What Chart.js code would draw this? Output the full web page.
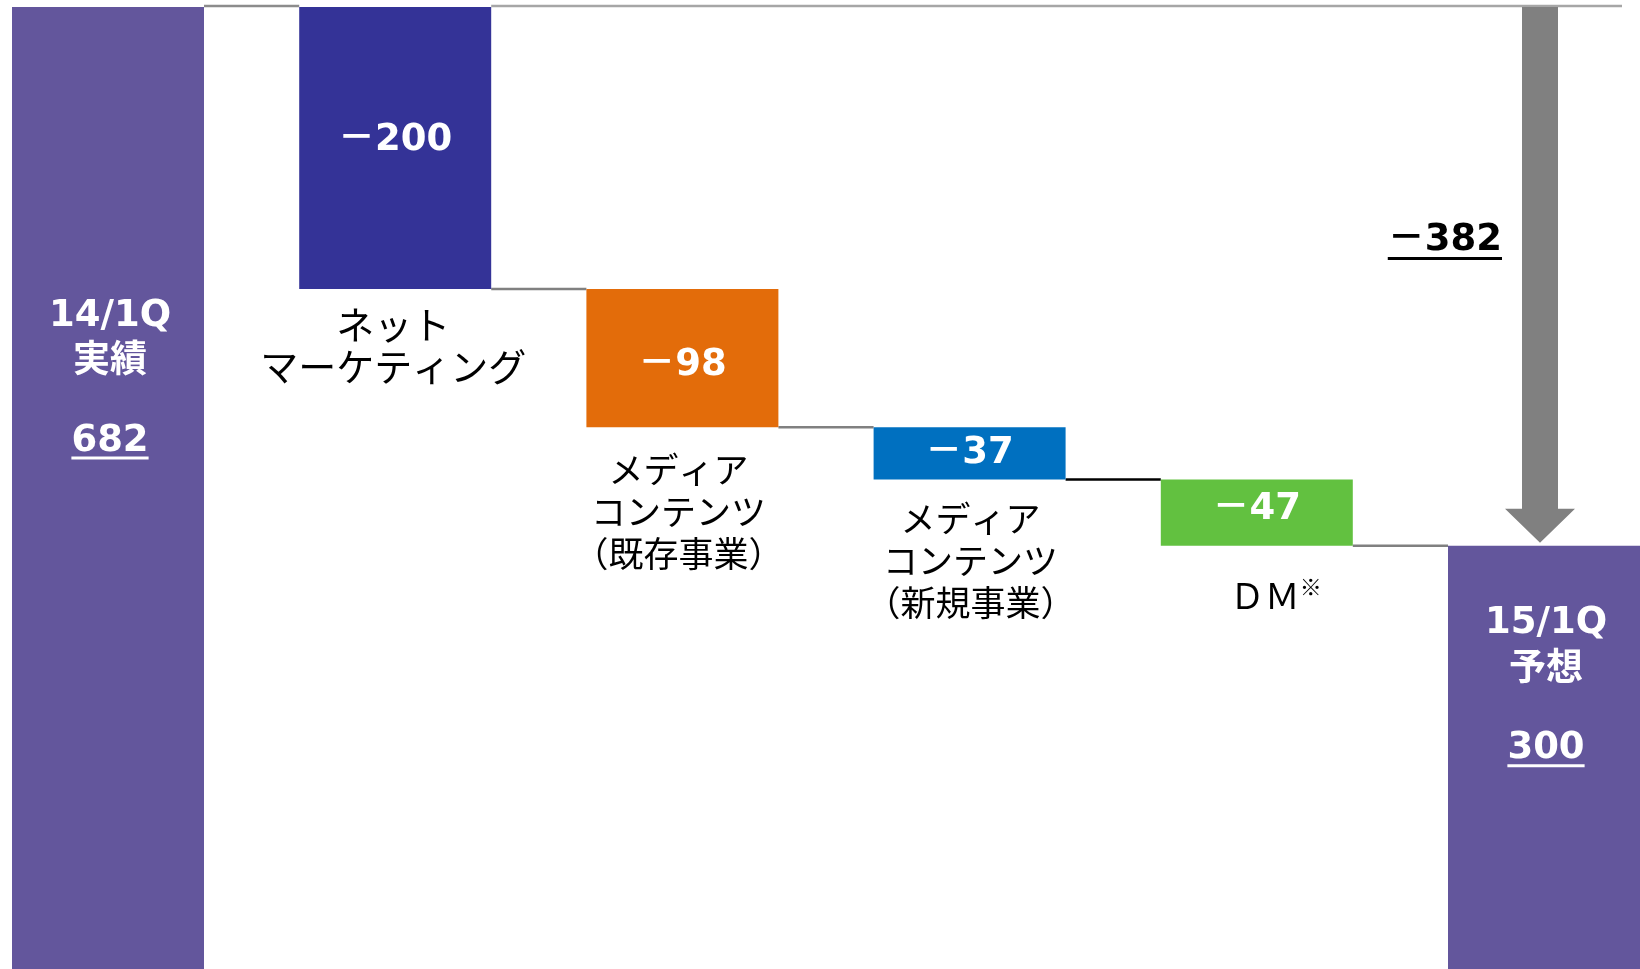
<!DOCTYPE html>
<html lang="ja">
<head>
<meta charset="utf-8">
<title>営業利益 増減要因</title>
<script src="https://cdn.jsdelivr.net/npm/chart.js@4.4.1/dist/chart.umd.min.js"></script>
<style>
  html, body { margin: 0; padding: 0; background: #fff; }
  #wrap { width: 1640px; height: 969px; }
</style>
</head>
<body>
<div id="wrap"><canvas id="myChart" width="1640" height="969"></canvas></div>
<script>
// 14/1Q実績 → 15/1Q予想 の増減
var startValue = 682;
var endValue = 300;
var changes = [-200, -98, -37, -47];
var categories = ["14/1Q実績", "ネットマーケティング", "メディアコンテンツ（既存事業）", "メディアコンテンツ（新規事業）", "ＤＭ※", "15/1Q予想"];
var totalTitles = [["14/1Q", "実績"], ["15/1Q", "予想"]];
var changeLines = [["ネット", "マーケティング"], ["メディア", "コンテンツ", "（既存事業）"], ["メディア", "コンテンツ", "（新規事業）"], ["ＤＭ※"]];

var barColors = ["#63569c", "#343397", "#e36c0a", "#0070c0", "#62c140", "#63569c"];
var connectorColors = ["#8c8c8c", "#808080", "#808080", "#000000", "#808080"];
// label placement below each change bar (px from bar centre / bar bottom)
var labelDx = [-2, -4, 1, 19];
var labelDy = [35, 42, 39, 50];
var labelSize = [38, 35, 35, 35];
// nudges for the value printed inside each change bar
var valueDy = [-8, 7, 0, -3];
// first title line, measured down from the top of each total bar
var totalDy = [307, 76];

// floating bars: [bottom, top]
var bars = [[0, startValue]];
var levels = [startValue];
var level = startValue;
changes.forEach(function (c) {
  bars.push([level + c, level]);
  level += c;
  levels.push(level);
});
bars.push([0, endValue]);

function fmt(v) {
  return v < 0 ? "－" + Math.abs(v) : String(v);
}

var NUM_FONT = '"DejaVu Sans", "Noto Sans CJK JP", sans-serif';
var JP_FONT = '"Noto Sans CJK JP", sans-serif';

function underline(ctx, text, x, y, align, color, lw) {
  var w = ctx.measureText(text).width;
  var x0 = align === "right" ? x - w : x - w / 2;
  ctx.strokeStyle = color;
  ctx.lineWidth = lw;
  ctx.beginPath();
  ctx.moveTo(x0, y);
  ctx.lineTo(x0 + w, y);
  ctx.stroke();
}

var waterfallText = {
  id: "waterfallText",
  beforeDatasetsDraw: function (chart) {
    var ctx = chart.ctx;
    var els = chart.getDatasetMeta(0).data;
    var ys = chart.scales.y;
    function edge(i, side) { return els[i].x + side * els[i].width / 2; }
    ctx.save();
    ctx.lineWidth = 2.5;
    // steps between neighbouring bars
    for (var i = 0; i < els.length - 1; i++) {
      var py = ys.getPixelForValue(levels[i]);
      if (i === 0) py -= 1;
      ctx.strokeStyle = connectorColors[i];
      ctx.beginPath();
      ctx.moveTo(edge(i, 1), py);
      ctx.lineTo(edge(i + 1, -1), py);
      ctx.stroke();
    }
    // top reference line running past the arrow
    var topY = ys.getPixelForValue(startValue) - 1;
    ctx.strokeStyle = "#a6a6a6";
    ctx.beginPath();
    ctx.moveTo(edge(1, 1), topY);
    ctx.lineTo(els[els.length - 1].x + 78, topY);
    ctx.stroke();
    ctx.restore();
  },
  afterDatasetsDraw: function (chart) {
    var ctx = chart.ctx;
    var els = chart.getDatasetMeta(0).data;
    var ys = chart.scales.y;
    var last = els.length - 1;
    function box(i) {
      var e = els[i];
      return { x: e.x, top: Math.min(e.y, e.base), bottom: Math.max(e.y, e.base) };
    }
    ctx.save();
    ctx.textAlign = "center";
    ctx.textBaseline = "middle";

    // change values inside the bars, category names underneath
    changes.forEach(function (c, k) {
      var b = box(k + 1);
      ctx.fillStyle = "#ffffff";
      ctx.font = "bold 37px " + NUM_FONT;
      ctx.fillText(fmt(c), b.x, (b.top + b.bottom) / 2 + valueDy[k]);

      ctx.fillStyle = "#000000";
      var size = labelSize[k] + "px ";
      changeLines[k].forEach(function (line, n) {
        var lx = b.x + labelDx[k];
        var ly = b.bottom + labelDy[k] + n * 42;
        if (line.slice(-1) === "※") {
          var main = line.slice(0, -1);
          ctx.font = size + JP_FONT;
          var wm = ctx.measureText(main).width;
          ctx.font = "22px " + JP_FONT;
          var wn = ctx.measureText("※").width;
          var x0 = lx - (wm + wn) / 2;
          ctx.textAlign = "left";
          ctx.font = size + JP_FONT;
          ctx.fillText(main, x0, ly);
          ctx.font = "22px " + JP_FONT;
          ctx.fillText("※", x0 + wm, ly - 9);
          ctx.textAlign = "center";
        } else {
          ctx.font = size + JP_FONT;
          ctx.fillText(line, lx, ly);
        }
      });
    });

    // totals
    [[0, startValue], [last, endValue]].forEach(function (t, k) {
      var b = box(t[0]);
      var x = b.x + 2;
      var y0 = b.top + totalDy[k];
      ctx.fillStyle = "#ffffff";
      ctx.font = "bold 37px " + NUM_FONT;
      ctx.fillText(totalTitles[k][0], x, y0 + 2);
      ctx.font = "bold 37px " + JP_FONT;
      ctx.fillText(totalTitles[k][1], x, y0 + 44);
      ctx.font = "bold 37px " + NUM_FONT;
      ctx.fillText(String(t[1]), x, y0 + 127);
      underline(ctx, String(t[1]), x, y0 + 144, "center", "#ffffff", 3);
    });

    // overall change arrow
    var ax = els[last].x - 4;
    var aTop = ys.getPixelForValue(startValue);
    var aTip = ys.getPixelForValue(endValue) - 3;
    var head = 34, shaft = 18, wing = 35;
    ctx.fillStyle = "#808080";
    ctx.beginPath();
    ctx.moveTo(ax - shaft, aTop);
    ctx.lineTo(ax + shaft, aTop);
    ctx.lineTo(ax + shaft, aTip - head);
    ctx.lineTo(ax + wing, aTip - head);
    ctx.lineTo(ax, aTip);
    ctx.lineTo(ax - wing, aTip - head);
    ctx.lineTo(ax - shaft, aTip - head);
    ctx.closePath();
    ctx.fill();

    var diff = fmt(endValue - startValue);
    var tx = ax - shaft - 20;
    var ty = aTop + (aTip - aTop) * 0.43 + 3;
    ctx.textAlign = "right";
    ctx.fillStyle = "#000000";
    ctx.font = "bold 37px " + NUM_FONT;
    ctx.fillText(diff, tx, ty);
    underline(ctx, diff, tx, ty + 18, "right", "#000000", 3);
    ctx.restore();
  }
};

var ctx = document.getElementById("myChart").getContext("2d");
var chart = new Chart(ctx, {
  type: "bar",
  data: {
    labels: categories,
    datasets: [
      {
        data: bars,
        backgroundColor: barColors,
        borderWidth: 0,
        barPercentage: 1,
        categoryPercentage: 0.6685,
        clip: false
      }
    ]
  },
  options: {
    responsive: false,
    animation: false,
    layout: { padding: { left: 108, right: 96, top: 7, bottom: 0 } },
    plugins: {
      legend: { display: false },
      tooltip: { enabled: false }
    },
    scales: {
      x: { display: false, offset: false },
      y: { display: false, min: 0, max: startValue }
    }
  },
  plugins: [waterfallText]
});
</script>
</body>
</html>
